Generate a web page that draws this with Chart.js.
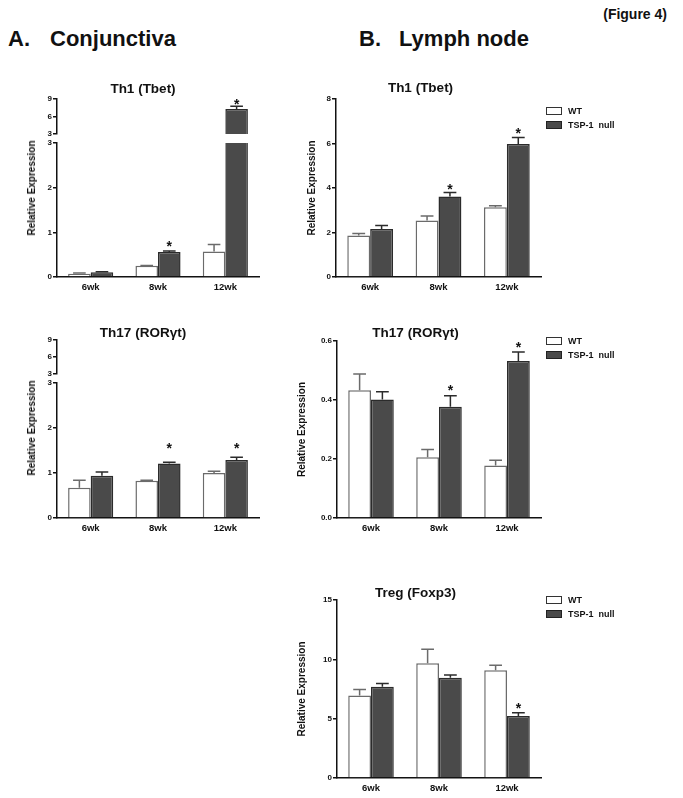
<!DOCTYPE html>
<html>
<head>
<meta charset="utf-8">
<script src="https://cdn.jsdelivr.net/npm/chart.js@4.4.1/dist/chart.umd.min.js"></script>
<style>
  body { margin: 0; background: #fff; width: 683px; height: 798px; position: relative; overflow: hidden;
         font-family: "Liberation Sans", Arial, sans-serif; color: #111; }
  canvas { position: absolute; }
  .head { position: absolute; font-weight: bold; font-size: 22px; line-height: 1; white-space: pre; }
  .fig { position: absolute; font-weight: bold; font-size: 14px; line-height: 1; right: 16px; }
  .ytitle { position: absolute; font-weight: bold; font-size: 10px; line-height: 1; white-space: nowrap;
            transform: translate(-50%, -50%) rotate(-90deg); }
  .leg { position: absolute; font-weight: bold; font-size: 9px; line-height: 1; white-space: pre; }
  .sw { position: absolute; box-sizing: border-box; width: 16px; height: 8px; border: 1.5px solid #222; }
</style>
</head>
<body>
<div class="fig" style="top:7px">(Figure 4)</div>
<div class="head" style="left:8px; top:28px">A.</div>
<div class="head" style="left:50px; top:28px">Conjunctiva</div>
<div class="head" style="left:359px; top:28px">B.</div>
<div class="head" style="left:399px; top:28px">Lymph node</div>

<script>
const categories = ['6wk', '8wk', '12wk'];
const seriesNames = ['WT', 'TSP-1  null'];

// A. Conjunctiva, Th1 (Tbet)
const conjTh1WT = [0.07, 0.25, 0.57];
const conjTh1WTErr = [0.02, 0.01, 0.16];
const conjTh1KO = [0.105, 0.56, 7.3];
const conjTh1KOErr = [0.01, 0.02, 0.47];
const conjTh1Stars = [null, 0.77, 8.74];

// A. Conjunctiva, Th17 (RORgt)
const conjTh17WT = [0.67, 0.83, 1.0];
const conjTh17WTErr = [0.17, 0.01, 0.04];
const conjTh17KO = [0.94, 1.21, 1.29];
const conjTh17KOErr = [0.08, 0.03, 0.06];
const conjTh17Stars = [null, 1.62, 1.62];

// B. Lymph node, Th1 (Tbet)
const lnTh1WT = [1.87, 2.54, 3.13];
const lnTh1WTErr = [0.08, 0.2, 0.07];
const lnTh1KO = [2.16, 3.62, 5.98];
const lnTh1KOErr = [0.15, 0.18, 0.29];
const lnTh1Stars = [null, 4.07, 6.59];

// B. Lymph node, Th17 (RORgt)
const lnTh17WT = [0.433, 0.206, 0.178];
const lnTh17WTErr = [0.055, 0.026, 0.018];
const lnTh17KO = [0.402, 0.377, 0.532];
const lnTh17KOErr = [0.026, 0.037, 0.031];
const lnTh17Stars = [null, 0.444, 0.589];

// B. Lymph node, Treg (Foxp3)
const lnTregWT = [6.95, 9.68, 9.09];
const lnTregWTErr = [0.51, 1.16, 0.42];
const lnTregKO = [7.68, 8.44, 5.23];
const lnTregKOErr = [0.29, 0.25, 0.26];
const lnTregStars = [null, null, 6.14];

const font = '"Liberation Sans", Arial, sans-serif';
const ink = '#111';
const wtFill = '#ffffff', wtLine = '#6b6b6b';
const koFill = '#4a4a4a', koLine = '#2b2b2b';

// upper error whiskers and significance stars
const errorBars = {
  id: 'errorBars',
  afterDatasetsDraw(chart) {
    const ctx = chart.ctx;
    const y = chart.scales.y;
    chart.data.datasets.forEach((ds, i) => {
      chart.getDatasetMeta(i).data.forEach((bar, j) => {
        const v = ds.data[j];
        const e = ds.errors[j];
        if (v >= y.min && v + e <= y.max) {
          const yBar = y.getPixelForValue(v);
          const yTop = y.getPixelForValue(v + e);
          const cap = bar.width * 0.28;
          ctx.save();
          ctx.strokeStyle = ds.borderColor;
          ctx.lineWidth = 1.5;
          ctx.beginPath();
          ctx.moveTo(bar.x, yBar);
          ctx.lineTo(bar.x, yTop);
          ctx.moveTo(bar.x - cap, yTop);
          ctx.lineTo(bar.x + cap, yTop);
          ctx.stroke();
          ctx.restore();
        }
        const s = ds.stars ? ds.stars[j] : null;
        if (s != null && s >= y.min && s <= y.max) {
          ctx.save();
          ctx.fillStyle = ink;
          ctx.font = 'bold 14px ' + font;
          ctx.textAlign = 'center';
          ctx.textBaseline = 'alphabetic';
          ctx.fillText('*', bar.x, y.getPixelForValue(s) + 8);
          ctx.restore();
        }
      });
    });
  }
};

function addPanel(p) {
  const hasTitle = !!p.title;
  const yW = p.yTitleX ? p.area.left - (p.yTitleX - 12) : 30;
  const left = p.area.left - yW;
  const top = hasTitle ? p.titleY - 12 : p.area.top - 8;
  const width = hasTitle ? Math.round(2 * (p.titleX - left)) : p.area.right - left + 30;
  const padRight = left + width - p.area.right;
  const height = p.showX ? p.area.bottom - top + 22 : p.area.bottom - top + 8;

  const c = document.createElement('canvas');
  c.width = width;
  c.height = height;
  c.style.left = left + 'px';
  c.style.top = top + 'px';
  document.body.appendChild(c);

  new Chart(c, {
    type: 'bar',
    data: {
      labels: categories,
      datasets: [
        { label: seriesNames[0], data: p.wt, errors: p.wtErr, stars: null,
          backgroundColor: wtFill, borderColor: wtLine, borderWidth: 1.5, clip: 0 },
        { label: seriesNames[1], data: p.ko, errors: p.koErr, stars: p.stars,
          backgroundColor: koFill, borderColor: koLine, borderWidth: 1.5, clip: 0 }
      ]
    },
    options: {
      responsive: false,
      animation: false,
      layout: { padding: { left: 0, right: padRight, top: hasTitle ? 0 : 8, bottom: p.showX ? 0 : 8 } },
      datasets: { bar: { categoryPercentage: 0.67, barPercentage: 1 } },
      plugins: {
        legend: { display: false },
        tooltip: { enabled: false },
        title: {
          display: hasTitle,
          text: p.title,
          color: ink,
          font: { family: font, size: 13.5, weight: 'bold', lineHeight: 1 },
          padding: hasTitle ? { top: 5.25, bottom: Math.max(0, p.area.top - p.titleY - 6.75) } : 0
        }
      },
      scales: {
        x: {
          display: p.showX,
          grid: { display: false, drawTicks: false },
          border: { display: true, color: ink, width: 1.5 },
          ticks: { color: ink, padding: 4.5, font: { family: font, size: 9.5, weight: 'bold' } },
          afterFit: s => { if (p.showX) s.height = 22; }
        },
        y: {
          min: p.min,
          max: p.max,
          afterFit: s => { s.width = yW; },
          border: { color: ink, width: 1.5 },
          grid: { drawOnChartArea: false, color: ink, lineWidth: 1.5, tickLength: 4 },
          ticks: {
            stepSize: p.step, padding: 1, color: ink,
            font: { family: font, size: 8, weight: 'bold' },
            callback: p.fmt || (v => v)
          },
          title: {
            display: !!p.yTitleX,
            text: 'Relative Expression',
            color: ink,
            font: { family: font, size: 10, weight: 'bold', lineHeight: 1.2 },
            padding: { top: 6, bottom: 0 }
          }
        }
      }
    },
    plugins: [errorBars]
  });
}

function addYTitle(x, y) {
  const d = document.createElement('div');
  d.className = 'ytitle';
  d.textContent = 'Relative Expression';
  d.style.left = x + 'px';
  d.style.top = y + 'px';
  document.body.appendChild(d);
}

function addLegend(x, y) {
  [[wtFill, '#333'], [koFill, '#222']].forEach((col, k) => {
    const sw = document.createElement('div');
    sw.className = 'sw';
    sw.style.left = x + 'px';
    sw.style.top = (y + k * 14) + 'px';
    sw.style.background = col[0];
    sw.style.borderColor = col[1];
    document.body.appendChild(sw);
    const t = document.createElement('div');
    t.className = 'leg';
    t.textContent = seriesNames[k];
    t.style.left = (x + 22) + 'px';
    t.style.top = (y + k * 14 - 0.5) + 'px';
    document.body.appendChild(t);
  });
}

// A. Conjunctiva, broken axis: upper part 3-9, lower part 0-3
addPanel({ title: 'Th1 (Tbet)', titleX: 157, titleY: 89, area: { left: 57, right: 259, top: 99, bottom: 134 },
  min: 3, max: 9, step: 3, showX: false,
  wt: conjTh1WT, wtErr: conjTh1WTErr, ko: conjTh1KO, koErr: conjTh1KOErr, stars: conjTh1Stars });
addPanel({ area: { left: 57, right: 259, top: 143, bottom: 277 },
  min: 0, max: 3, step: 1, showX: true,
  wt: conjTh1WT, wtErr: conjTh1WTErr, ko: conjTh1KO, koErr: conjTh1KOErr, stars: conjTh1Stars });
addYTitle(32, 188);

addPanel({ title: 'Th17 (RORγt)', titleX: 157, titleY: 333, area: { left: 57, right: 259, top: 340, bottom: 374 },
  min: 3, max: 9, step: 3, showX: false,
  wt: conjTh17WT, wtErr: conjTh17WTErr, ko: conjTh17KO, koErr: conjTh17KOErr, stars: conjTh17Stars });
addPanel({ area: { left: 57, right: 259, top: 383, bottom: 518 },
  min: 0, max: 3, step: 1, showX: true,
  wt: conjTh17WT, wtErr: conjTh17WTErr, ko: conjTh17KO, koErr: conjTh17KOErr, stars: conjTh17Stars });
addYTitle(32, 428);

// B. Lymph node
addPanel({ title: 'Th1 (Tbet)', titleX: 438, titleY: 88, yTitleX: 312, area: { left: 336, right: 541, top: 99, bottom: 277 },
  min: 0, max: 8, step: 2, showX: true,
  wt: lnTh1WT, wtErr: lnTh1WTErr, ko: lnTh1KO, koErr: lnTh1KOErr, stars: lnTh1Stars });
addLegend(546, 107);

addPanel({ title: 'Th17 (RORγt)', titleX: 438, titleY: 333, yTitleX: 302, area: { left: 337, right: 541, top: 341, bottom: 518 },
  min: 0, max: 0.6, step: 0.2, showX: true, fmt: v => v.toFixed(1),
  wt: lnTh17WT, wtErr: lnTh17WTErr, ko: lnTh17KO, koErr: lnTh17KOErr, stars: lnTh17Stars });
addLegend(546, 337);

addPanel({ title: 'Treg (Foxp3)', titleX: 438, titleY: 593, yTitleX: 302, area: { left: 337, right: 541, top: 600, bottom: 778 },
  min: 0, max: 15, step: 5, showX: true,
  wt: lnTregWT, wtErr: lnTregWTErr, ko: lnTregKO, koErr: lnTregKOErr, stars: lnTregStars });
addLegend(546, 596);
</script>
</body>
</html>
